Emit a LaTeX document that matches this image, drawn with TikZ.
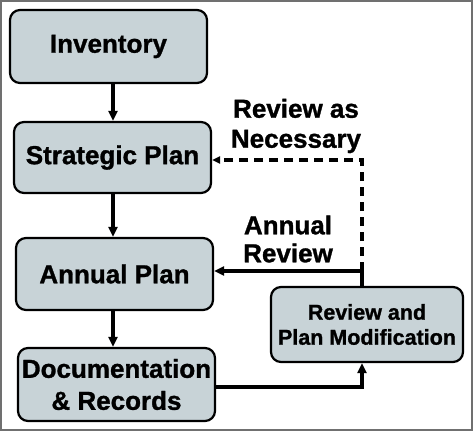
\documentclass[tikz,border=0pt]{standalone}
\usepackage{fontspec}
\setmainfont{Liberation Sans}[BoldFeatures={FakeBold=1.2}]
\usetikzlibrary{arrows.meta}
\definecolor{boxfill}{RGB}{200,211,215}
\definecolor{framegray}{RGB}{112,112,112}
\begin{document}
\begin{tikzpicture}[x=1pt,y=-1pt,
 box/.style={draw=black, line width=2.2pt, fill=boxfill, rounded corners=10pt, align=center, inner sep=0pt, minimum width=197pt},
 big/.style={font=\bfseries\fontsize{26}{32}\selectfont},
 flow/.style={line width=3.5pt, -{Triangle[length=10pt,width=9pt]}},
 dflow/.style={line width=3.5pt, dash pattern=on 9pt off 6pt, -{Triangle[length=8pt,width=7pt]}},
 lbl/.style={align=center, font=\bfseries\fontsize{26}{30}\selectfont}]
\useasboundingbox (0,0) rectangle (473,431);
\draw[framegray, line width=2pt] (1,1) rectangle (472,430);
\node[box, big, minimum height=73pt] (inv) at (108.5,46.5) {Inventory};
\node[box, big, minimum height=71pt] (sp) at (112.5,157.5) {Strategic Plan};
\node[box, big, minimum height=72pt] (ap) at (114.5,274) {Annual Plan};
\node[box, big, minimum height=73pt] (doc) at (116.5,384.5) {Documentation\\\& Records};
\node[box, minimum width=192pt, minimum height=75pt, font=\bfseries\fontsize{21.5}{25}\selectfont] (rev) at (367,324.5) {Review and\\Plan Modification};
\node[lbl] (lrn) at (296,126) {Review as\\Necessary};
\node[lbl, font=\bfseries\fontsize{26}{28}\selectfont] (lar) at (288,239) {Annual\\Review};
\coordinate (cx) at (113,0);
\coordinate (vx) at (362,0);
\coordinate (dy) at (0,387);
\coordinate (ay) at (0,271);
\coordinate (sy) at (0,160);
\draw[flow] (inv.south -| cx) -- (sp.north -| cx);
\draw[flow] (sp.south -| cx) -- (ap.north -| cx);
\draw[flow] (ap.south -| cx) -- (doc.north -| cx);
\draw[flow] (doc.east |- dy) -| (rev.south -| vx);
\draw[flow] (rev.north -| vx) |- (ap.east |- ay);
\draw[dflow] (vx |- ay) |- (sp.east |- sy);
\end{tikzpicture}
\end{document}
